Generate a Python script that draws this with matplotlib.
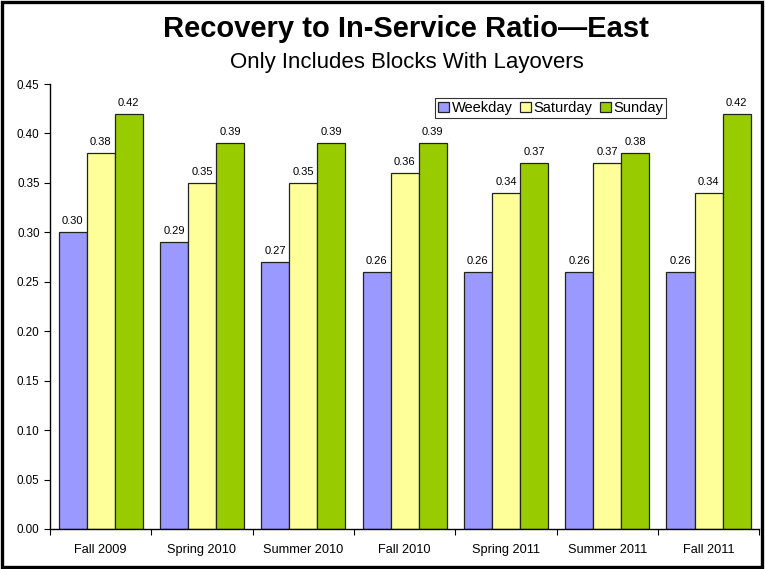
import matplotlib
matplotlib.use('Agg')
import matplotlib.pyplot as plt
from matplotlib.patches import Rectangle
import numpy as np

plt.rcParams['font.family'] = ['Liberation Sans', 'DejaVu Sans']

# Dados
categories = ['Fall 2009', 'Spring 2010', 'Summer 2010', 'Fall 2010',
              'Spring 2011', 'Summer 2011', 'Fall 2011']
weekday = [0.30, 0.29, 0.27, 0.26, 0.26, 0.26, 0.26]
saturday = [0.38, 0.35, 0.35, 0.36, 0.34, 0.37, 0.34]
sunday = [0.42, 0.39, 0.39, 0.39, 0.37, 0.38, 0.42]
series_names = ['Weekday', 'Saturday', 'Sunday']
colors = ['#9999FF', '#FFFF99', '#99CC00']

fig = plt.figure(figsize=(7.65, 5.69), dpi=100)
ax = fig.add_axes([0.0654, 0.0703, 0.927, 0.782])

# Moldura em volta da figura
fig.patches.append(Rectangle((0.003, 0.004), 0.993, 0.992, transform=fig.transFigure,
                             fill=False, edgecolor='black', linewidth=2.4))

x = np.arange(len(categories))
width = 0.277
for i, (vals, name, c) in enumerate(zip([weekday, saturday, sunday], series_names, colors)):
    pos = x + (i - 1) * width
    bars = ax.bar(pos, vals, width, color=c, edgecolor='#222222', linewidth=0.9, label=name)
    for bar, v in zip(bars, vals):
        ax.text(bar.get_x() + bar.get_width() / 2, v + 0.006, f'{v:.2f}',
                ha='center', va='bottom', fontsize=8)

ax.set_xlim(-0.5, len(categories) - 0.5)
ax.set_ylim(0, 0.45)
yt = np.arange(0, 0.451, 0.05)
ax.set_yticks(yt)
ax.set_yticklabels([f'{t:.2f}' for t in yt], fontsize=8.4)

# Ticks nas fronteiras das categorias
ax.set_xticks(np.arange(-0.5, len(categories), 1.0))
ax.set_xticklabels([])
ax.set_xticks(x, minor=True)
ax.set_xticklabels(categories, minor=True, fontsize=9.2)
ax.tick_params(axis='x', which='minor', length=0, pad=11)
ax.tick_params(axis='x', which='major', length=4, direction='out')
ax.tick_params(axis='y', length=4, direction='out')

for s in ['top', 'right']:
    ax.spines[s].set_visible(False)
ax.spines['left'].set_linewidth(1.0)
ax.spines['bottom'].set_linewidth(1.0)

leg = ax.legend(loc='upper right', bbox_to_anchor=(0.869, 0.968), borderaxespad=0,
                ncol=3, fontsize=10.5, frameon=True, fancybox=False, edgecolor='black',
                handlelength=0.75, handleheight=0.75, handletextpad=0.2,
                columnspacing=0.5, borderpad=0.2)
leg.get_frame().set_linewidth(0.8)

fig.text(0.531, 0.949, 'Recovery to In-Service Ratio\u2014East', ha='center', va='center',
         fontsize=21, fontweight='bold')
fig.text(0.532, 0.891, 'Only Includes Blocks With Layovers', ha='center', va='center',
         fontsize=16)

fig.savefig('out.png', dpi=100)
